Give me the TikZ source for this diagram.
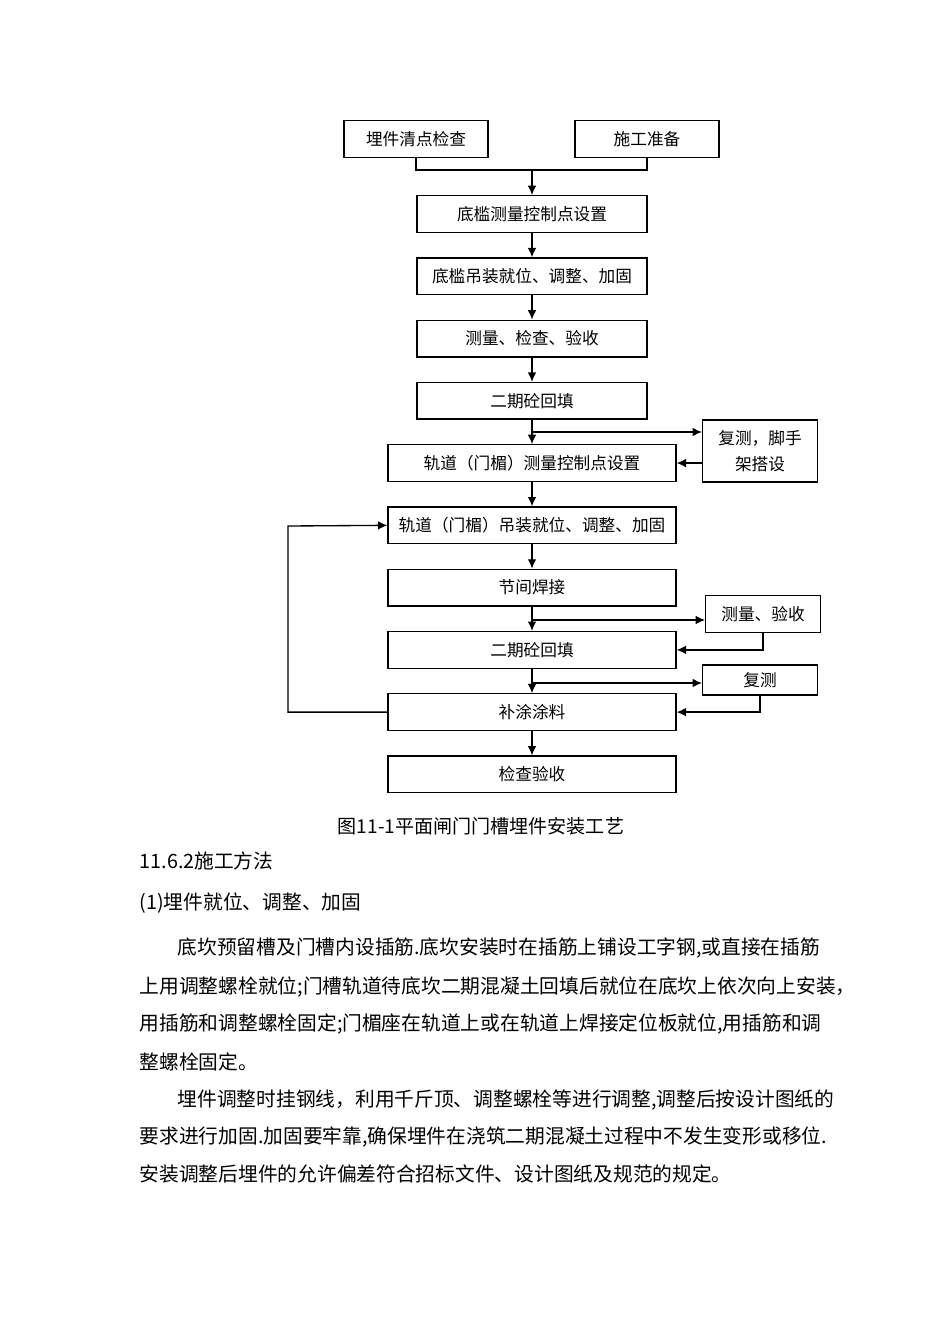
\documentclass[tikz,border=0pt]{standalone}
\usepackage{fontspec}
\setmainfont{Noto Sans CJK SC}
\usepackage{tikz}
\usetikzlibrary{arrows.meta,positioning}

\begin{document}
\begin{tikzpicture}[x=0.75pt,y=-0.75pt,>={Latex[length=7pt,width=6.5pt]},line width=1pt,node distance=46.7pt]
    \tikzstyle{stepbox}=[draw,inner sep=0pt,minimum height=27.5pt,font=\fontsize{12.5}{14}\selectfont]
    \tikzstyle{topbox}=[stepbox,minimum width=108pt]
    \tikzstyle{midbox}=[stepbox,minimum width=172.5pt]
    \tikzstyle{widebox}=[stepbox,minimum width=216pt]
    \tikzstyle{sidebox}=[stepbox,minimum width=86pt,align=center]
    \tikzstyle{bodytext}=[anchor=west,inner sep=0pt,font=\fontsize{14.8}{16}\selectfont]

    \fill[white] (0,0) rectangle (950,1344);

    \node[topbox]  (check)    at (416,139)       {埋件清点检查};
    \node[topbox]  (prep)     at (647,139)       {施工准备};
    \node[midbox]  (sill)     at (532,214)       {底槛测量控制点设置};
    \node[midbox]  (sillset)  [below of=sill]    {底槛吊装就位、调整、加固};
    \node[midbox]  (sillchk)  [below of=sillset] {测量、检查、验收};
    \node[midbox]  (sillfill) [below of=sillchk] {二期砼回填};
    \node[widebox] (rail)     [below of=sillfill] {轨道（门楣）测量控制点设置};
    \node[widebox] (railset)  [below of=rail]    {轨道（门楣）吊装就位、调整、加固};
    \node[widebox] (weld)     [below of=railset] {节间焊接};
    \node[widebox] (railfill) [below of=weld]    {二期砼回填};
    \node[widebox] (paint)    [below of=railfill] {补涂涂料};
    \node[widebox] (accept)   [below of=paint]   {检查验收};

    \node[sidebox,minimum height=46.5pt,font=\fontsize{12.5}{19.5}\selectfont] (scaf) at (760,451) {复测，脚手\\架搭设};
    \node[sidebox] (meas)   at (763,614) {测量、验收};
    \node[sidebox,minimum height=22.5pt] (remeas) at (760,680) {复测};

    \coordinate (join)  at (532,170);
    \coordinate (fork1) at (532,432);
    \coordinate (fork2) at (532,620);
    \coordinate (fork3) at (532,683);
    \coordinate (loop)  at (288,526);

    \draw (check.south) |- (join) -| (prep.south);
    \draw[->] (join) -- (sill);

    \path [->]
    (sill) edge (sillset)
    (sillset) edge (sillchk)
    (sillchk) edge (sillfill)
    (sillfill) edge (rail)
    (rail) edge (railset)
    (railset) edge (weld)
    (weld) edge (railfill)
    (railfill) edge (paint)
    (paint) edge (accept);

    \draw[->] (fork1) -- (fork1 -| scaf.west);
    \draw[->] (scaf.west |- rail) -- (rail.east);
    \draw[->] (fork2) -- (fork2 -| meas.west);
    \draw[->] (meas.south) |- (railfill.east);
    \draw[->] (fork3) -- (fork3 -| remeas.west);
    \draw[->] (remeas.south) |- (paint.east);
    \draw[->] (paint.west) -| (loop) -- (railset.west);

    \node[inner sep=0pt,font=\fontsize{14.3}{16}\selectfont] (caption) at (481,826) {图11-1平面闸门门槽埋件安装工艺};
    \node[bodytext] (sec)  at (139,861) {11.6.2施工方法};
    \node[bodytext] (sub)  at (139,903) {(1)埋件就位、调整、加固};
    \node[bodytext] (p1a)  at (177,948) {底坎预留槽及门槽内设插筋.底坎安装时在插筋上铺设工字钢,或直接在插筋};
    \node[bodytext] (p1b)  at (139,987) {上用调整螺栓就位;门槽轨道待底坎二期混凝土回填后就位在底坎上依次向上安装，};
    \node[bodytext] (p1c)  at (139,1024) {用插筋和调整螺栓固定;门楣座在轨道上或在轨道上焊接定位板就位,用插筋和调};
    \node[bodytext] (p1d)  at (139,1062) {整螺栓固定。};
    \node[bodytext] (p2a)  at (177,1100) {埋件调整时挂钢线，利用千斤顶、调整螺栓等进行调整,调整后按设计图纸的};
    \node[bodytext] (p2b)  at (139,1137) {要求进行加固.加固要牢靠,确保埋件在浇筑二期混凝土过程中不发生变形或移位.};
    \node[bodytext] (p2c)  at (139,1174) {安装调整后埋件的允许偏差符合招标文件、设计图纸及规范的规定。};
\end{tikzpicture}
\end{document}
